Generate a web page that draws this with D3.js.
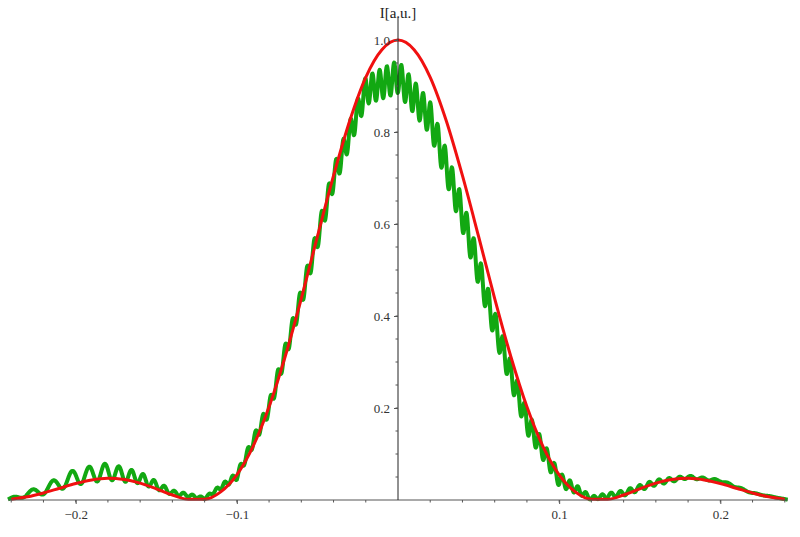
<!DOCTYPE html>
<html><head><meta charset="utf-8">
<script src="https://cdn.jsdelivr.net/npm/d3@7"></script>
<style>body{margin:0;background:#fff}svg{font-family:"Liberation Serif",serif}</style>
</head><body><svg id="c" width="800" height="537"></svg>
<script>
const redX = [-0.24,-0.23,-0.22,-0.21,-0.20,-0.19,-0.18,-0.17,-0.16,-0.15,-0.14,-0.13,-0.12,-0.11,-0.10,-0.09,-0.08,-0.07,-0.06,-0.05,-0.04,-0.03,-0.02,-0.01,0,0.01,0.02,0.03,0.04,0.05,0.06,0.07,0.08,0.09,0.10,0.11,0.12,0.13,0.14,0.15,0.16,0.17,0.18,0.19,0.20,0.21,0.22,0.23,0.24];
const redY = [0.0017,0.0069,0.0153,0.0256,0.0358,0.0437,0.0471,0.0448,0.0367,0.0243,0.0109,0.0015,0.0017,0.0177,0.0547,0.116,0.2025,0.312,0.438,0.573,0.705,0.824,0.919,0.979,1.0,0.979,0.919,0.824,0.705,0.573,0.438,0.312,0.2025,0.116,0.0547,0.0177,0.0017,0.0015,0.0109,0.0243,0.0367,0.0448,0.0471,0.0437,0.0358,0.0256,0.0153,0.0069,0.0017];
const grnX = [-0.24,-0.22,-0.20,-0.18,-0.16,-0.14,-0.12,-0.10,-0.08,-0.06,-0.04,-0.02,0,0.02,0.04,0.06,0.08,0.10,0.12,0.14,0.16,0.18,0.20,0.22,0.24];
const grnBase = [0.003,0.022,0.05,0.062,0.048,0.016,0.004,0.052,0.20,0.44,0.70,0.89,0.92,0.83,0.62,0.38,0.17,0.045,0.004,0.015,0.038,0.05,0.042,0.015,0.002];
const grnAmp = [0.002,0.01,0.017,0.018,0.012,0.005,0.002,0.008,0.015,0.02,0.025,0.03,0.035,0.035,0.035,0.03,0.025,0.015,0.004,0.006,0.006,0.003,0.002,0.001,0];
const grnPeriod = [0.012,0.013,0.011,0.009,0.007,0.006,0.005,0.0048,0.0046,0.0045,0.0045,0.0045,0.0045,0.0045,0.0045,0.0045,0.0045,0.0048,0.005,0.006,0.006,0.007,0.008,0.009,0.01];
const xTicks = [-0.2,-0.1,0.1,0.2];
const yTicks = [0.2,0.4,0.6,0.8,1.0];

const svg = d3.select("#c");
const x = d3.scaleLinear().domain([-0.242,0.242]).range([8,788]);
const y = d3.scaleLinear().domain([0,1]).range([500,40]);

const b = d3.scaleLinear().domain(grnX).range(grnBase);
const a = d3.scaleLinear().domain(grnX).range(grnAmp);
const p = d3.scaleLinear().domain(grnX).range(grnPeriod);
const gpts = []; let ph = 0;
for (let t = -0.242; t <= 0.242; t += 0.0002) {
  ph += 0.0002 / p(t) * 2 * Math.PI;
  gpts.push([t, Math.max(0, b(t) + a(t) * Math.sin(ph))]);
}
const line = d3.line().x(d => x(d[0])).y(d => y(d[1]));
svg.append("path").attr("d", line(gpts)).attr("fill","none").attr("stroke","#12a812").attr("stroke-width",4).attr("stroke-linejoin","round");
svg.append("path").attr("d", d3.line().curve(d3.curveMonotoneX).x((d,i)=>x(redX[i])).y((d,i)=>y(redY[i]))(redX))
  .attr("fill","none").attr("stroke","#f01010").attr("stroke-width",3);

const xa = svg.append("g").attr("transform",`translate(0,${y(0)})`)
  .call(d3.axisBottom(x).tickValues(xTicks).tickFormat(d=>d3.format(".1f")(d).replace("-","−")).tickSize(4).tickPadding(6));
xa.append("g").selectAll("line").data(d3.range(-0.24,0.2401,0.02).map(v=>+v.toFixed(2)).filter(v=>Math.abs(v)>1e-9))
  .join("line").attr("x1",d=>x(d)).attr("x2",d=>x(d)).attr("y1",0).attr("y2",2.5).attr("stroke","#555");
xa.select(".domain").attr("d",`M8,0H788`).attr("stroke","#555");
const ya = svg.append("g").attr("transform",`translate(${x(0)},0)`)
  .call(d3.axisLeft(y).tickValues(yTicks).tickFormat(d3.format(".1f")).tickSize(4).tickPadding(4));
ya.append("g").selectAll("line").data(d3.range(0.05,1.01,0.05).map(v=>+v.toFixed(2)))
  .join("line").attr("x1",0).attr("x2",-2.5).attr("y1",d=>y(d)).attr("y2",d=>y(d)).attr("stroke","#555");
ya.select(".domain").attr("d",`M0,500V18`).attr("stroke","#222");
svg.selectAll(".tick text").attr("font-family","Liberation Serif, serif").attr("font-size",13).attr("fill","#333");
svg.selectAll(".tick line").attr("stroke","#555");
svg.append("text").attr("x",x(0)).attr("y",18).attr("text-anchor","middle").attr("font-size",15).attr("fill","#222").text("I[a.u.]");
</script></body></html>
